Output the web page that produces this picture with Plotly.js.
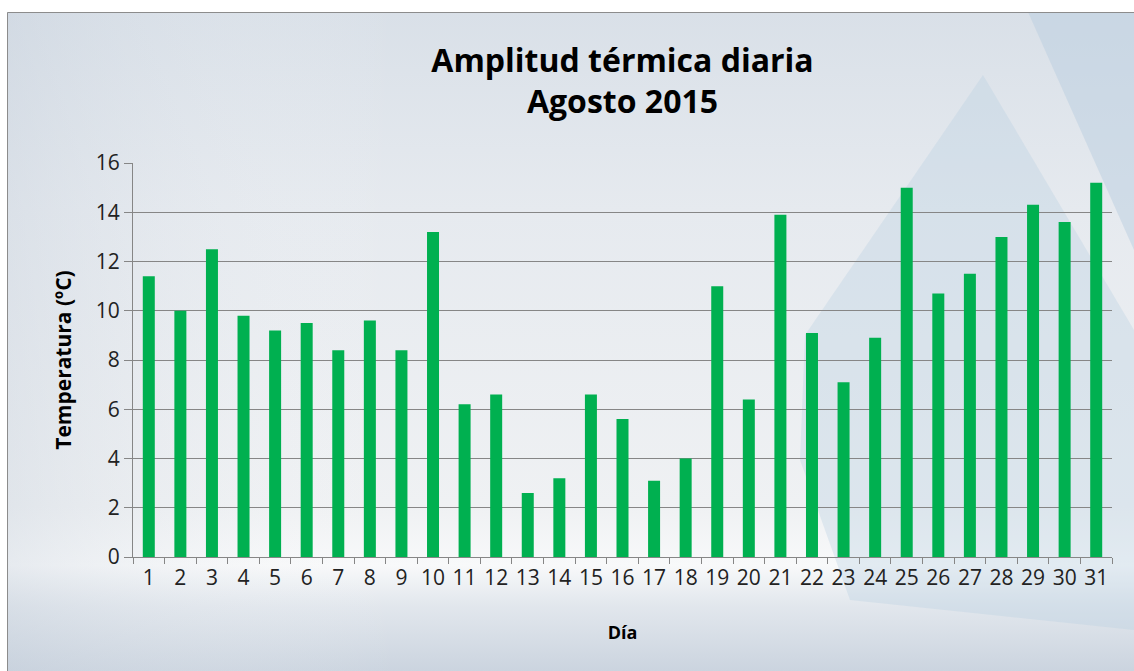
<!DOCTYPE html>
<html>
<head>
<meta charset="utf-8">
<script src="https://cdn.plot.ly/plotly-3.0.1.min.js"></script>
<style>html,body{margin:0;padding:0;background:#fff;}#chart{width:1134px;height:671px;}</style>
</head>
<body>
<div id="chart"></div>
<script>
const days = ["1","2","3","4","5","6","7","8","9","10","11","12","13","14","15","16","17","18","19","20","21","22","23","24","25","26","27","28","29","30","31"];
const amplitud = [11.4,10.0,12.5,9.8,9.2,9.5,8.4,9.6,8.4,13.2,6.2,6.6,2.6,3.2,6.6,5.6,3.1,4.0,11.0,6.4,13.9,9.1,7.1,8.9,15.0,10.7,11.5,13.0,14.3,13.6,15.2];
const yTicks = [0,2,4,6,8,10,12,14,16];

const W = 1134, H = 671;
const M = {l:133, r:22, t:163, b:114};
const pw = W - M.l - M.r, ph = H - M.t - M.b;
function px(x){ return (x - M.l)/pw; }
function py(y){ return (H - M.b - y)/ph; }

const fx0 = 7, fy0 = 12, fx1 = 1134, fy1 = 671;
const bw = fx1 - fx0, bh = fy1 - fy0;
function sx(x){ return x - fx0; }
function sy(y){ return y - fy0; }
const svg = `<svg xmlns="http://www.w3.org/2000/svg" width="${bw}" height="${bh}" viewBox="0 0 ${bw} ${bh}" preserveAspectRatio="none">
<defs>
<linearGradient id="g" x1="0" y1="0" x2="0" y2="1">
<stop offset="0" stop-color="#d9e0e8"/>
<stop offset="0.3" stop-color="#e6eaef"/>
<stop offset="0.75" stop-color="#eff1f3"/>
<stop offset="0.84" stop-color="#f8f9fa"/>
<stop offset="0.9" stop-color="#e2e7ed"/>
<stop offset="1" stop-color="#cbd4df"/>
</linearGradient>
<linearGradient id="h" x1="0" y1="0" x2="1" y2="0">
<stop offset="0" stop-color="#c5cfdb" stop-opacity="0.35"/>
<stop offset="0.35" stop-color="#ffffff" stop-opacity="0"/>
<stop offset="1" stop-color="#ffffff" stop-opacity="0"/>
</linearGradient>
</defs>
<rect x="0" y="0" width="${bw}" height="${bh}" fill="url(#g)"/>
<rect x="0" y="0" width="${bw}" height="${bh}" fill="url(#h)"/>
<polygon points="${sx(1028)},0 ${bw},0 ${bw},${sy(250)}" fill="#b9cde0" fill-opacity="0.5"/>
<polygon points="${sx(983)},${sy(75)} ${sx(805)},${sy(335)} ${sx(800)},${sy(460)} ${sx(850)},${sy(600)} ${bw},${sy(630)} ${bw},${sy(330)}" fill="#b7cde2" fill-opacity="0.33"/>
</svg>`;
const bgSrc = "data:image/svg+xml;charset=utf-8," + encodeURIComponent(svg);

const FONT = "'Open Sans', sans-serif";

const trace = {
  type: "bar",
  x: days,
  y: amplitud,
  marker: {color: "#00b050"},
  hoverinfo: "x+y"
};

const layout = {
  width: W, height: H,
  margin: M,
  paper_bgcolor: "#ffffff",
  plot_bgcolor: "rgba(0,0,0,0)",
  showlegend: false,
  bargap: 0.62,
  font: {family: FONT, color: "#222"},
  title: {
    text: "<b>Amplitud térmica diaria<br>Agosto 2015</b>",
    font: {family: FONT, size: 32, color: "#000"},
    x: 0.5, xref: "paper", xanchor: "center",
    y: 0.893, yref: "container", yanchor: "middle"
  },
  xaxis: {
    type: "category",
    tickson: "boundaries",
    tickangle: 0,
    ticks: "outside", ticklen: 6, tickcolor: "#868686",
    showline: true, linecolor: "#868686", linewidth: 1,
    showgrid: false,
    tickfont: {family: FONT, size: 21, color: "#222"},
    ticklabelstandoff: 2,
    title: {text: "<b>Día</b>", font: {family: FONT, size: 18, color: "#000"}, standoff: 36},
    fixedrange: true
  },
  yaxis: {
    range: [0, 16],
    tickvals: yTicks,
    ticktext: yTicks.map(String),
    ticks: "outside", ticklen: 8, tickcolor: "#868686",
    showline: true, linecolor: "#868686", linewidth: 1,
    showgrid: true, gridcolor: "#868686", gridwidth: 1,
    zeroline: false,
    tickfont: {family: FONT, size: 21, color: "#222"},
    title: {text: "<b>Temperatura (ºC)</b>", font: {family: FONT, size: 21, color: "#000"}, standoff: 18},
    fixedrange: true
  },
  images: [{
    source: bgSrc,
    xref: "paper", yref: "paper",
    x: px(fx0), y: py(fy0),
    sizex: bw/pw, sizey: bh/ph,
    xanchor: "left", yanchor: "top",
    sizing: "stretch", layer: "below"
  }],
  shapes: [{
    type: "rect", xref: "paper", yref: "paper",
    x0: px(fx0+0.5), x1: px(fx1+5), y0: py(fy1+5), y1: py(fy0+0.5),
    line: {color: "#8c8c8c", width: 1}, fillcolor: "rgba(0,0,0,0)", layer: "above"
  }]
};

Plotly.newPlot("chart", [trace], layout, {displayModeBar: false, staticPlot: true});
</script>
</body>
</html>
